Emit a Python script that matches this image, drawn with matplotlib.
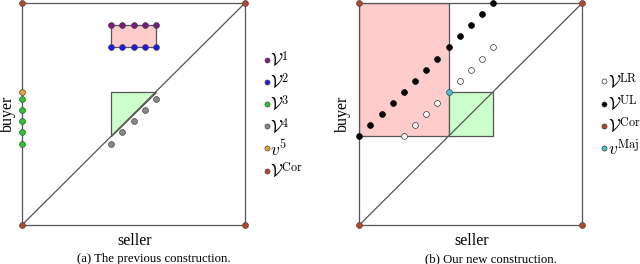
import matplotlib
matplotlib.use("Agg")
import matplotlib.pyplot as plt
from matplotlib.patches import Rectangle, Polygon

plt.rcParams['font.family'] = ['Liberation Serif', 'DejaVu Serif']
plt.rcParams['mathtext.fontset'] = 'cm'

# ---- data ----
cor_x = [0, 1, 0, 1]
cor_y = [0, 0, 1, 1]

# panel (a)
v1_x = [0.4, 0.45, 0.5, 0.55, 0.6]
v1_y = [0.9, 0.9, 0.9, 0.9, 0.9]
v2_x = [0.4, 0.45, 0.5, 0.55, 0.6]
v2_y = [0.8, 0.8, 0.8, 0.8, 0.8]
v3_x = [0, 0, 0, 0, 0]
v3_y = [0.367, 0.417, 0.467, 0.517, 0.567]
v4_x = [0.4, 0.45, 0.5, 0.55, 0.6]
v4_y = [0.367, 0.417, 0.467, 0.517, 0.567]
v5_x = [0]
v5_y = [0.6]
a_rect = [0.4, 0.8, 0.6, 0.9]          # x0, y0, x1, y1
a_tri = [(0.4, 0.4), (0.4, 0.6), (0.6, 0.6)]

# panel (b)
ul_x = [0, 0.05, 0.1, 0.15, 0.2, 0.25, 0.3, 0.35, 0.4, 0.45, 0.5, 0.55, 0.6]
ul_y = [0.4, 0.45, 0.5, 0.55, 0.6, 0.65, 0.7, 0.75, 0.8, 0.85, 0.9, 0.95, 1.0]
lr_x = [0.2, 0.25, 0.3, 0.35, 0.45, 0.5, 0.55, 0.6]
lr_y = [0.4, 0.45, 0.5, 0.55, 0.65, 0.7, 0.75, 0.8]
maj_x = [0.4]
maj_y = [0.6]
b_rect = [0.0, 0.4, 0.4, 1.0]
b_sq = [0.4, 0.4, 0.6, 0.6]

# ---- style ----
LC = '#555555'
LW = 0.9
C1 = '#7d1a7d'
C2 = '#1a1aee'
C3 = '#22cc22'
C4 = '#888888'
C5 = '#f0a030'
CCOR = '#b8452a'
CMAJ = '#40c4d8'
RED = '#ffcccc'
GREEN = '#ccffcc'
MS = 4.2

fig = plt.figure(figsize=(6.4, 2.64), dpi=100)
W, H = 640, 264


def make_ax(x0):
    ax = fig.add_axes([x0 / W, (H - 225) / H, 223 / W, 222 / H])
    ax.set_xlim(0, 1)
    ax.set_ylim(0, 1)
    ax.axis('off')
    ax.plot([0, 1, 1, 0, 0], [0, 0, 1, 1, 0], color=LC, lw=LW, clip_on=False, zorder=2)
    ax.plot([0, 1], [0, 1], color=LC, lw=LW, clip_on=False, zorder=2)
    return ax


def pts(ax, x, y, fc, ec=None, ms=MS):
    ax.plot(x, y, 'o', ms=ms, mfc=fc, mec=ec if ec else '#444444', mew=0.5,
            ls='none', clip_on=False, zorder=5)


def labels(cx, buyer_x, cap_x, caption):
    fig.text(cx / W, 1 - 245 / H, 'seller', ha='center', va='baseline', fontsize=11.5)
    fig.text(buyer_x / W, 1 - 114 / H, 'buyer', ha='center', va='center', rotation=90,
             fontsize=11.5)
    fig.text(cap_x / W, 1 - 262 / H, caption, ha='center', va='baseline', fontsize=9.2)


# panel (a)
ax = make_ax(22)
ax.add_patch(Rectangle((a_rect[0], a_rect[1]), a_rect[2] - a_rect[0], a_rect[3] - a_rect[1],
                       fc=RED, ec=LC, lw=LW, zorder=1))
ax.add_patch(Polygon(a_tri, closed=True, fc=GREEN, ec=LC, lw=LW, zorder=1))
pts(ax, v1_x, v1_y, C1)
pts(ax, v2_x, v2_y, C2)
pts(ax, v3_x, v3_y, C3)
pts(ax, v4_x, v4_y, C4)
pts(ax, v5_x, v5_y, C5)
pts(ax, cor_x, cor_y, CCOR)
labels(134.5, 7.5, 153.5, '(a) The previous construction.')

leg_a = [(C1, r'$\mathcal{V}^{1}$'), (C2, r'$\mathcal{V}^{2}$'), (C3, r'$\mathcal{V}^{3}$'),
         (C4, r'$\mathcal{V}^{4}$'), (C5, r'$v^{5}$'), (CCOR, r'$\mathcal{V}^{\mathrm{Cor}}$')]
for i, (c, lab) in enumerate(leg_a):
    yy = 0.745 - 0.1 * i
    pts(ax, [1.097], [yy], c, ms=3.6)
    ax.text(1.112, yy - 0.005, lab, ha='left', va='center', fontsize=12.5)

# panel (b)
ax = make_ax(359.3)
ax.add_patch(Rectangle((b_rect[0], b_rect[1]), b_rect[2] - b_rect[0], b_rect[3] - b_rect[1],
                       fc=RED, ec=LC, lw=LW, zorder=1))
ax.add_patch(Rectangle((b_sq[0], b_sq[1]), b_sq[2] - b_sq[0], b_sq[3] - b_sq[1],
                       fc=GREEN, ec=LC, lw=LW, zorder=1))
pts(ax, ul_x, ul_y, 'black', 'black')
pts(ax, lr_x, lr_y, 'white', '#333333')
pts(ax, maj_x, maj_y, CMAJ)
pts(ax, cor_x, cor_y, CCOR)
labels(471.5, 343, 491, '(b) Our new construction.')

leg_b = [('white', r'$\mathcal{V}^{\mathrm{LR}}$'), ('black', r'$\mathcal{V}^{\mathrm{UL}}$'),
         (CCOR, r'$\mathcal{V}^{\mathrm{Cor}}$'), (CMAJ, r'$v^{\mathrm{Maj}}$')]
for i, (c, lab) in enumerate(leg_b):
    yy = 0.647 - 0.1 * i
    pts(ax, [1.099], [yy], c, '#333333', ms=3.6)
    ax.text(1.114, yy - 0.005, lab, ha='left', va='center', fontsize=12.5)

fig.savefig('out.png', dpi=100)
